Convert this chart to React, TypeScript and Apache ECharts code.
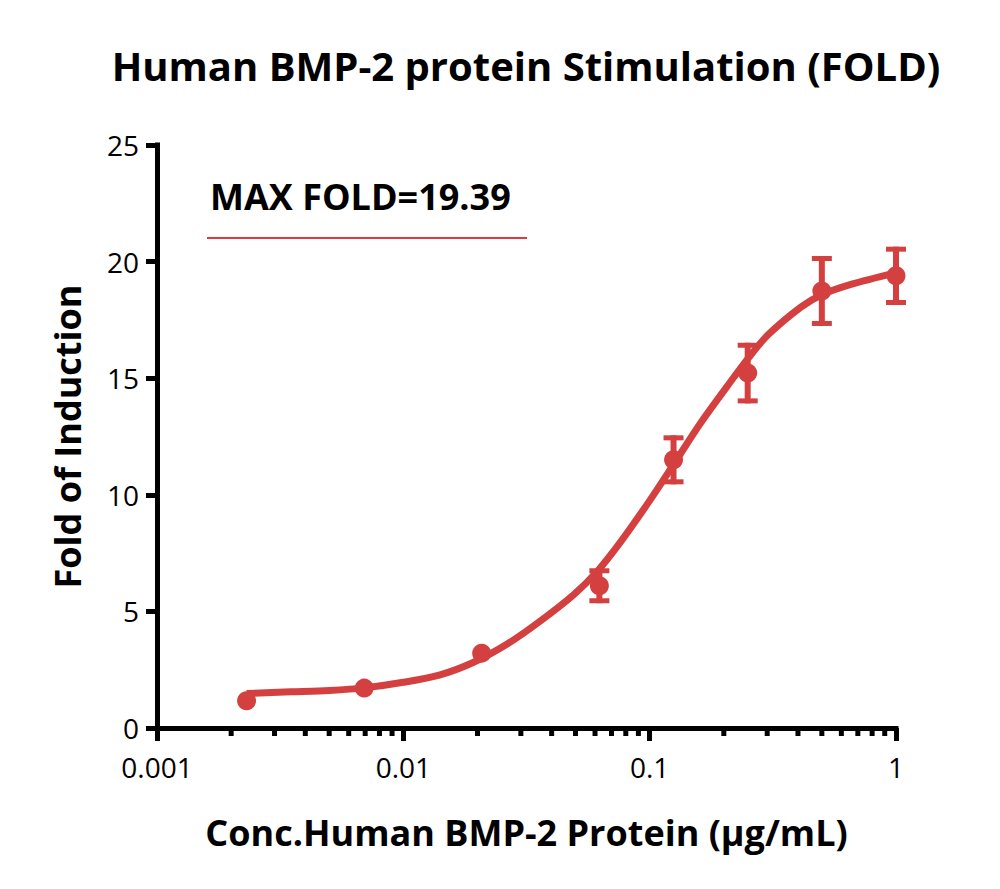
import React, { useEffect, useRef } from "react";
import * as echarts from "echarts";

const titleText = "Human BMP-2 protein Stimulation (FOLD)";
const xAxisName = "Conc.Human BMP-2 Protein (µg/mL)";
const yAxisName = "Fold of Induction";
const annotationText = "MAX FOLD=19.39";

const xTickLabels = ["0.001", "0.01", "0.1", "1"];
const minorTickValues = [
  0.002, 0.003, 0.004, 0.005, 0.006, 0.007, 0.008, 0.009,
  0.02, 0.03, 0.04, 0.05, 0.06, 0.07, 0.08, 0.09,
  0.2, 0.3, 0.4, 0.5, 0.6, 0.7, 0.8, 0.9,
];

// measured points
const concentrations = [0.00231, 0.00694, 0.0208, 0.0625, 0.125, 0.25, 0.5, 1];
const foldMeans = [1.17, 1.71, 3.21, 6.1, 11.5, 15.22, 18.74, 19.39];
const foldErrors = [0, 0, 0, 0.75, 1.05, 1.3, 1.5, 1.25];

// fitted curve
const curveX = [
  0.00231, 0.0035, 0.005, 0.00694, 0.01, 0.0141, 0.0193, 0.0264, 0.0361,
  0.0492, 0.0613, 0.0762, 0.1, 0.125, 0.161, 0.22, 0.25, 0.301, 0.411,
  0.5, 0.656, 1,
];
const curveY = [
  1.48, 1.55, 1.61, 1.72, 1.96, 2.28, 2.82, 3.6, 4.6,
  5.72, 6.72, 7.98, 9.75, 11.3, 13.08, 15.05, 15.83, 16.84, 18.05,
  18.58, 19.02, 19.53,
];

const RED = "#d4403f";
const FONT = "Open Sans";

export default function App() {
  const ref = useRef<HTMLDivElement>(null);
  useEffect(() => {
    if (!ref.current) return;
    const chart = echarts.init(ref.current, null, { renderer: "svg" });
    const pointData = concentrations.map((c, i) => [c, foldMeans[i]]);
    const errorData = concentrations
      .map((c, i) => [c, foldMeans[i] - foldErrors[i], foldMeans[i] + foldErrors[i], foldErrors[i]])
      .filter((d) => d[3] > 0);
    const curveData = curveX.map((x, i) => [x, curveY[i]]);

    chart.setOption({
      animation: false,
      backgroundColor: "#ffffff",
      title: {
        text: titleText,
        left: 521,
        top: 40,
        textAlign: "center",
        textStyle: { fontFamily: FONT, fontWeight: "bold", fontSize: 40, color: "#000" },
      },
      grid: { left: 157, right: 104, top: 145, bottom: 161, containLabel: false },
      xAxis: {
        type: "log",
        logBase: 10,
        min: 0.001,
        max: 1,
        name: xAxisName,
        nameLocation: "middle",
        nameGap: 86,
        nameTextStyle: { fontFamily: FONT, fontWeight: "bold", fontSize: 36, color: "#000" },
        axisLine: { lineStyle: { color: "#000", width: 5, cap: "square" } },
        axisTick: { inside: false, length: 13, lineStyle: { color: "#000", width: 5 } },
        minorTick: { show: false },
        splitLine: { show: false },
        axisLabel: {
          margin: 25,
          fontFamily: FONT,
          fontSize: 28,
          color: "#000",
          formatter: (_v: number, idx: number) => xTickLabels[idx] ?? "",
        },
      },
      yAxis: {
        type: "value",
        min: 0,
        max: 25,
        interval: 5,
        name: yAxisName,
        nameLocation: "middle",
        nameGap: 72,
        nameTextStyle: { fontFamily: FONT, fontWeight: "bold", fontSize: 36, color: "#000" },
        axisLine: { show: true, lineStyle: { color: "#000", width: 5, cap: "square" } },
        axisTick: { show: true, length: 11, lineStyle: { color: "#000", width: 5 } },
        splitLine: { show: false },
        axisLabel: { margin: 18, fontFamily: FONT, fontSize: 28, color: "#000" },
      },
      graphic: [
        {
          type: "text",
          left: 210,
          top: 178,
          style: {
            text: annotationText,
            fontFamily: FONT,
            fontWeight: "bold",
            fontSize: 36,
            fill: "#000",
          },
        },
        {
          type: "line",
          shape: { x1: 207, y1: 238, x2: 527, y2: 238 },
          style: { stroke: "#e03a3a", lineWidth: 2 },
        },
      ],
      series: [
        {
          type: "custom",
          name: "minorTicks",
          clip: false,
          silent: true,
          data: minorTickValues.map((v) => [v, 0]),
          renderItem: (_p: any, api: any) => {
            const p = api.coord([api.value(0), 0]);
            return {
              type: "line",
              shape: { x1: p[0], y1: p[1], x2: p[0], y2: p[1] + 8 },
              style: { stroke: "#000", lineWidth: 5 },
            };
          },
          z: 1,
        },
        {
          type: "line",
          name: "fit",
          data: curveData,
          showSymbol: false,
          smooth: 0.3,
          lineStyle: { color: RED, width: 7 },
          silent: true,
          z: 2,
        },
        {
          type: "custom",
          name: "errors",
          data: errorData,
          renderItem: (_p: any, api: any) => {
            const x = api.value(0);
            const lo = api.coord([x, api.value(1)]);
            const hi = api.coord([x, api.value(2)]);
            const hw = 10;
            const t = 5;
            return {
              type: "group",
              children: [
                {
                  type: "line",
                  shape: { x1: lo[0], y1: lo[1], x2: hi[0], y2: hi[1] },
                  style: { stroke: RED, lineWidth: 6 },
                },
                {
                  type: "line",
                  shape: { x1: hi[0] - hw, y1: hi[1] + t / 2, x2: hi[0] + hw, y2: hi[1] + t / 2 },
                  style: { stroke: RED, lineWidth: t },
                },
                {
                  type: "line",
                  shape: { x1: lo[0] - hw, y1: lo[1] - t / 2, x2: lo[0] + hw, y2: lo[1] - t / 2 },
                  style: { stroke: RED, lineWidth: t },
                },
              ],
            };
          },
          z: 3,
        },
        {
          type: "scatter",
          name: "points",
          data: pointData,
          symbol: "circle",
          symbolSize: 19,
          itemStyle: { color: RED, opacity: 1 },
          z: 4,
        },
      ],
    });
    return () => chart.dispose();
  }, []);
  return (
    <div
      ref={ref}
      style={{ width: 1000, height: 889, position: "absolute", left: 0, top: 0, background: "#fff" }}
    />
  );
}
